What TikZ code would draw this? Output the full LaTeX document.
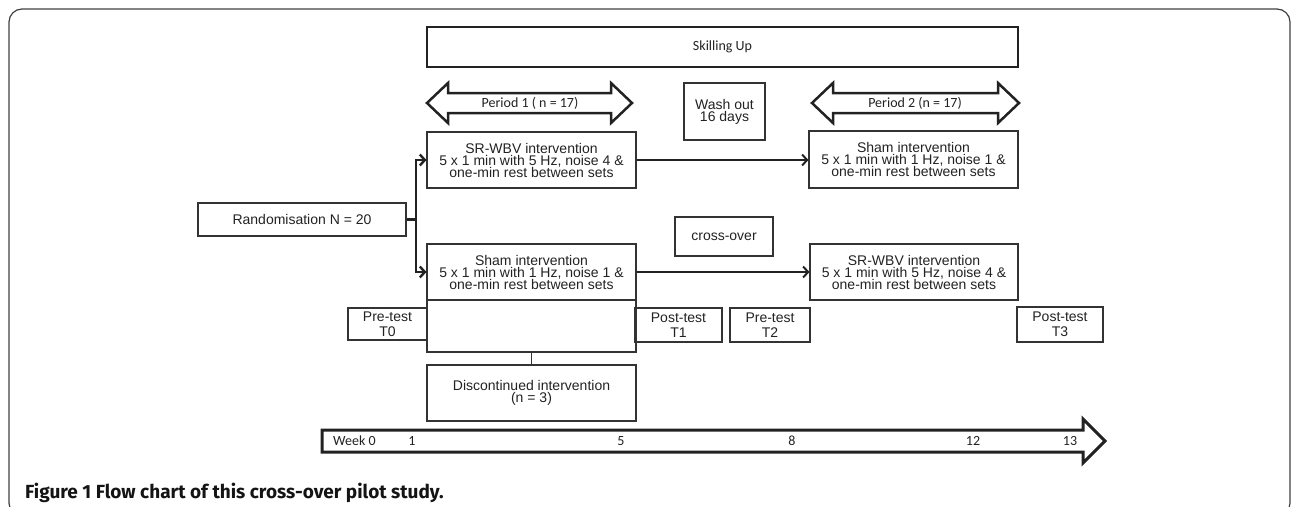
\documentclass[tikz,border=0pt]{standalone}
\usepackage{fontspec}
\setmainfont{Liberation Sans}
\newfontfamily\calfont{Carlito}
\newfontfamily\capfont{Fira Sans}
\usetikzlibrary{arrows.meta}
\definecolor{ink}{HTML}{222222}
\definecolor{boxline}{HTML}{333333}
\begin{document}
\begin{tikzpicture}[x=1pt,y=-1pt,
  box/.style={draw=boxline, line width=1.1pt, align=center, inner sep=0pt,
    font=\fontsize{14}{12}\selectfont, text=ink},
  testbox/.style={box, font=\fontsize{14}{15}\selectfont},
  calibri/.style={font=\calfont\fontsize{14}{16}\selectfont, text=ink, inner sep=0pt},
  thickshape/.style={draw=ink, line width=2.5pt, line join=miter},
  branch/.style={draw=ink, line width=2.4pt},
  flow/.style={draw=ink, line width=2pt, -{Straight Barb[length=5pt,width=11pt]}},
  thin/.style={draw=boxline, line width=1.1pt}]
\useasboundingbox (0,0) rectangle (1292,506);
\begin{scope}
\clip (0,0) rectangle (1292,506);
\draw[draw=black!75, line width=1.2pt, rounded corners=13pt] (9,9) rectangle (1290,516);
\end{scope}

% Skilling up
\node[box, line width=2.5pt, draw=ink, minimum width=591, minimum height=40,
  font=\calfont\fontsize{14}{16}\selectfont] (skill) at (722.5,47) {Skilling Up};

% period arrows
\draw[thickshape] (427,103) -- (448,83) -- (448,93) -- (611,93) -- (611,83) -- (632,103)
  -- (611,123) -- (611,113) -- (448,113) -- (448,123) -- cycle;
\node[calibri] (p1) at (530,103) {Period 1 ( n = 17)};
\draw[thickshape] (812,103) -- (833,83) -- (833,93) -- (998,93) -- (998,83) -- (1019,103)
  -- (998,123) -- (998,113) -- (833,113) -- (833,123) -- cycle;
\node[calibri] (p2) at (915,103) {Period 2 (n = 17)};

% boxes
\node[box, minimum width=81, minimum height=57] (wash) at (724.5,111.5) {Wash out\\16 days};
\node[box, minimum width=209, minimum height=56] (sr1) at (531.5,160)
  {SR-WBV intervention\\5 x 1 min with 5 Hz, noise 4 \&\\one-min rest between sets};
\node[box, minimum width=209, minimum height=57] (sh2) at (913.5,159.5)
  {Sham intervention\\5 x 1 min with 1 Hz, noise 1 \&\\one-min rest between sets};
\node[box, minimum width=208, minimum height=33] (rand) at (302,219.5) {Randomisation N = 20};
\node[box, minimum width=98, minimum height=39] (cross) at (724,236.5) {cross-over};
\node[box, minimum width=209, minimum height=56] (sh1) at (531.5,272)
  {Sham intervention\\5 x 1 min with 1 Hz, noise 1 \&\\one-min rest between sets};
\node[box, minimum width=208, minimum height=56] (sr2) at (914,272)
  {SR-WBV intervention\\5 x 1 min with 5 Hz, noise 4 \&\\one-min rest between sets};

\node[testbox, minimum width=79, minimum height=32] (t0) at (387.5,324) {Pre-test\\T0};
\node[testbox, minimum width=87, minimum height=34] (t1) at (678.5,325) {Post-test\\T1};
\node[testbox, minimum width=80, minimum height=34] (t2) at (770,325) {Pre-test\\T2};
\node[testbox, minimum width=86, minimum height=35] (t3) at (1060,324.5) {Post-test\\T3};

\node[box, minimum width=209, minimum height=52] (gap) at (531.5,326) {};
\node[box, minimum width=209, minimum height=56] (disc) at (531.5,393)
  {Discontinued intervention\\(n = 3)};
\draw[thin] (gap.south) -- (disc.north);

% connectors
\coordinate (br) at (416,219.5);
\draw[branch] (rand.east) -- (br);
\draw[branch] (416,158.8) -- (416,273.2);
\draw[flow, line width=2.4pt] (br) |- (sr1.west);
\draw[flow, line width=2.4pt] (br) |- (sh1.west);
\draw[flow] (sr1.east) -- (sr1.east -| sh2.west);
\draw[flow] (sh1.east) -- (sh1.east -| sr2.west);

% week arrow
\draw[draw=ink, line width=3pt, line join=miter] (322,430) -- (1083,430) -- (1083,419) -- (1105,441)
  -- (1083,463) -- (1083,452) -- (322,452) -- cycle;
\node[calibri, anchor=west] (w0) at (333,441) {Week 0};
\node[calibri] (w1) at (412,441) {1};
\node[calibri] (w5) at (621,441) {5};
\node[calibri] (w8) at (792,441) {8};
\node[calibri] (w12) at (973,441) {12};
\node[calibri] (w13) at (1070,441) {13};

% caption
\node[anchor=base west, inner sep=0pt, text=black!92,
  font=\capfont\bfseries\fontsize{19}{22}\selectfont] (cap) at (25,498)
  {Figure 1 Flow chart of this cross-over pilot study.};
\end{tikzpicture}
\end{document}
